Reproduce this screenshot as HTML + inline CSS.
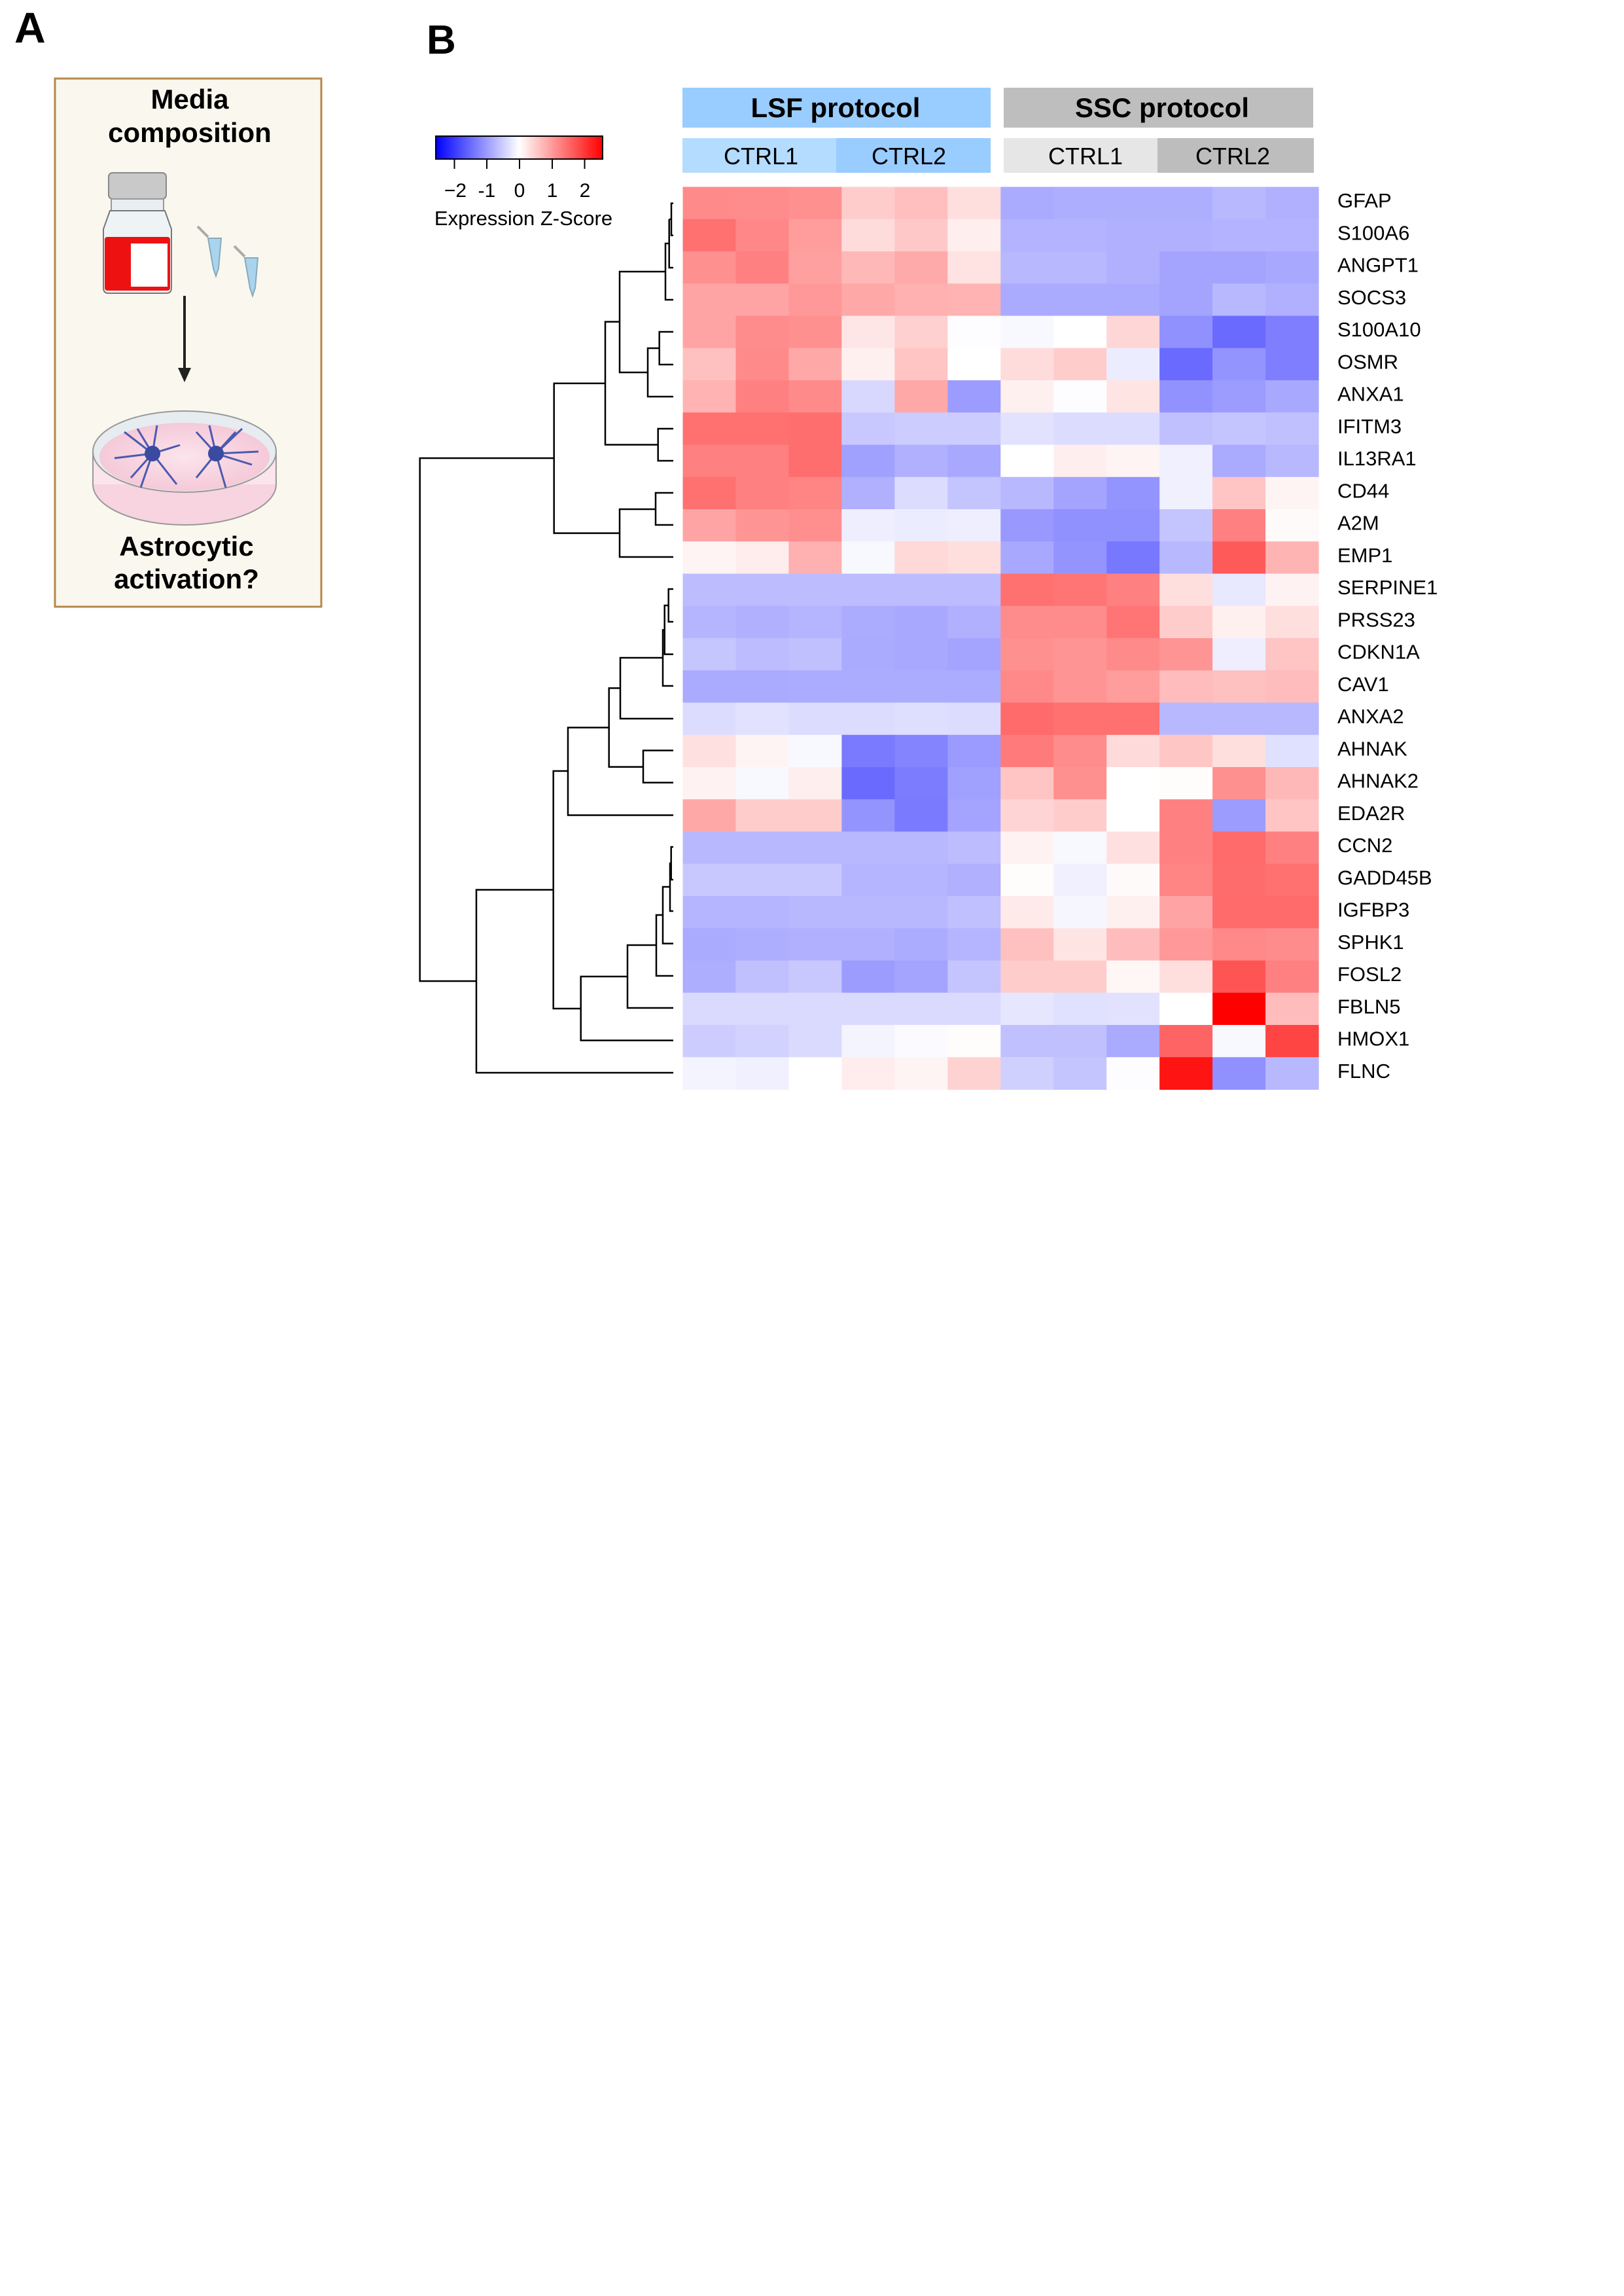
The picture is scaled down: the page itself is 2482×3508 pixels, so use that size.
<!DOCTYPE html>
<html><head><meta charset="utf-8">
<style>
html,body{margin:0;padding:0;background:#fff;}
svg{display:block;}
text{font-family:"Liberation Sans",sans-serif;}
</style></head>
<body>
<svg id="s" width="2482" height="3508" viewBox="0 0 2482 3508" xmlns="http://www.w3.org/2000/svg">
<defs>
<linearGradient id="cb" x1="0" x2="1" y1="0" y2="0">
<stop offset="0" stop-color="#0000ff"/><stop offset="0.5" stop-color="#ffffff"/><stop offset="1" stop-color="#ff0000"/>
</linearGradient>
<radialGradient id="dish" cx="0.5" cy="0.5" r="0.5"><stop offset="0" stop-color="#fbe4ec"/><stop offset="1" stop-color="#f5c9d8"/></radialGradient>
</defs>
<!-- Panel A -->
<text x="22" y="65" font-size="66" font-weight="bold">A</text>
<rect x="84" y="120" width="407" height="807" fill="#faf7ee" stroke="#b5874a" stroke-width="3"/>
<text x="290" y="166" font-size="42" font-weight="bold" text-anchor="middle">Media</text>
<text x="290" y="217" font-size="42" font-weight="bold" text-anchor="middle">composition</text>
<rect x="166" y="264" width="88" height="40" rx="6" fill="#c9c9c9" stroke="#888" stroke-width="2"/>
<rect x="170" y="304" width="80" height="18" fill="#e8eef2" stroke="#999" stroke-width="2"/>
<path d="M168 322 L252 322 L262 350 L262 440 Q262 448 254 448 L166 448 Q158 448 158 440 L158 350 Z" fill="#eef3f6" stroke="#777" stroke-width="2"/>
<rect x="160" y="362" width="100" height="82" rx="4" fill="#ee1111"/>
<rect x="200" y="372" width="56" height="66" fill="#ffffff"/>
<path d="M318 364 L338 364 L334 410 L330 422 L326 410 Z" fill="#a8d4ee" stroke="#8ab" stroke-width="2"/>
<path d="M374 394 L394 394 L390 440 L386 452 L382 440 Z" fill="#a8d4ee" stroke="#8ab" stroke-width="2"/>
<line x1="302" y1="346" x2="318" y2="362" stroke="#aaa" stroke-width="4"/>
<line x1="358" y1="376" x2="374" y2="392" stroke="#aaa" stroke-width="4"/>
<line x1="282" y1="452" x2="282" y2="565" stroke="#222" stroke-width="4"/>
<path d="M272 562 L292 562 L282 584 Z" fill="#222"/>
<ellipse cx="282" cy="740" rx="140" ry="62" fill="#f7d4e0" stroke="#999" stroke-width="2"/>
<rect x="142" y="690" width="280" height="50" fill="#fbe4ec"/>
<line x1="142" y1="690" x2="142" y2="740" stroke="#999" stroke-width="2"/>
<line x1="422" y1="690" x2="422" y2="740" stroke="#999" stroke-width="2"/>
<ellipse cx="282" cy="690" rx="140" ry="62" fill="#e6ecef" stroke="#999" stroke-width="2"/>
<ellipse cx="282" cy="698" rx="130" ry="52" fill="url(#dish)"/>
<g stroke="#4a5ab0" stroke-width="3" fill="none">
<path d="M233 693 L190 660 M233 693 L200 730 M233 693 L240 650 M233 693 L270 740 M233 693 L275 680 M233 693 L175 700 M233 693 L215 745 M233 693 L210 655"/>
<path d="M330 693 L300 660 M330 693 L370 655 M330 693 L385 710 M330 693 L345 745 M330 693 L300 730 M330 693 L360 660 M330 693 L395 690 M330 693 L320 650"/>
</g>
<circle cx="233" cy="693" r="12" fill="#3a4aa0"/><circle cx="330" cy="693" r="12" fill="#3a4aa0"/>
<text x="285" y="849" font-size="42" font-weight="bold" text-anchor="middle">Astrocytic</text>
<text x="285" y="899" font-size="42" font-weight="bold" text-anchor="middle">activation?</text>
<!-- Panel B -->
<text x="652" y="82" font-size="62" font-weight="bold">B</text>
<rect x="666" y="208" width="255" height="35" fill="url(#cb)" stroke="#000" stroke-width="2"/>
<g stroke="#000" stroke-width="2">
<line x1="694.5" y1="243" x2="694.5" y2="258"/><line x1="744" y1="243" x2="744" y2="258"/><line x1="794" y1="243" x2="794" y2="258"/><line x1="844" y1="243" x2="844" y2="258"/><line x1="893.5" y1="243" x2="893.5" y2="258"/>
</g>
<g font-size="30" text-anchor="middle">
<text x="696" y="301">−2</text><text x="744" y="301">-1</text><text x="794" y="301">0</text><text x="844" y="301">1</text><text x="894" y="301">2</text>
</g>
<text x="800" y="344" font-size="31" text-anchor="middle">Expression Z-Score</text>
<rect x="1043" y="134" width="471" height="61" fill="#99ccff"/>
<rect x="1534" y="134" width="473" height="61" fill="#bebebe"/>
<text x="1277" y="179" font-size="42" font-weight="bold" text-anchor="middle">LSF protocol</text>
<text x="1776" y="179" font-size="42" font-weight="bold" text-anchor="middle">SSC protocol</text>
<rect x="1043" y="211" width="235" height="53" fill="#b3dcff"/>
<rect x="1278" y="211" width="236" height="53" fill="#99ccff"/>
<rect x="1534" y="211" width="235" height="53" fill="#e6e6e6"/>
<rect x="1769" y="211" width="239" height="53" fill="#bdbdbd"/>
<g font-size="36" text-anchor="middle">
<text x="1163" y="251">CTRL1</text><text x="1389" y="251">CTRL2</text><text x="1659" y="251">CTRL1</text><text x="1884" y="251">CTRL2</text>
</g>
<g id="hm"></g>
<g id="lab" font-size="31"></g>
<g stroke="#000" stroke-width="2.5" fill="none">
<path d="M1029 310.6 H1026 V359.6 H1029"/>
<path d="M1026 335 H1022.7 M1029 409 H1022.7 V335"/>
<path d="M1022.7 372 H1017 V458 H1029"/>
<path d="M1029 507 H1007.7 V557 H1029"/>
<path d="M1007.7 532 H990 V606 H1029"/>
<path d="M1017 415 H947 V569 H990"/>
<path d="M1029 655 H1005.7 V704 H1029"/>
<path d="M947 491.6 H925 V679.5 H1005.7"/>
<path d="M1029 753 H1002 V802 H1029"/>
<path d="M1002 778 H947 V851 H1029"/>
<path d="M925 585.8 H846.7 V814.6 H947"/>
<path d="M846.7 700 H641.7 V1499 H728"/>
<path d="M1029 900 H1021.7 V950 H1029"/>
<path d="M1021.7 925 H1015.7 V999.6 H1029"/>
<path d="M1015.7 962.5 H1013 V1048 H1029"/>
<path d="M1013 1005 H948 V1098 H1029"/>
<path d="M1029 1146.6 H983 V1195.8 H1029"/>
<path d="M948 1051.4 H930.7 V1171.7 H983"/>
<path d="M930.7 1111.6 H868 V1245.5 H1029"/>
<path d="M1029 1294 H1025.7 V1344 H1029"/>
<path d="M1025.7 1319 H1024 V1392 H1029"/>
<path d="M1024 1355 H1013 V1441.6 H1029"/>
<path d="M1013 1398 H1003 V1491 H1029"/>
<path d="M1003 1444 H959 V1540 H1029"/>
<path d="M959 1492 H887.7 V1589.6 H1029"/>
<path d="M868 1178 H845.7 V1541 H887.7"/>
<path d="M845.7 1359.5 H728 V1639 H1029"/>
</g>
</svg>
<script>
var C=[
"ff8a8a ff8c8c ff9090 ffcccc ffbfbf ffdede aaaaff aeaeff aeaeff aeaeff b8b8ff b0b0ff",
"ff7070 ff8787 ff9d9d ffdcdc ffc8c8 ffeeee b3b3ff b3b3ff b0b0ff b0b0ff b3b3ff b3b3ff",
"ff9090 ff8080 ffa0a0 ffb8b8 ffaaaa ffe2e2 b8b8ff b8b8ff b0b0ff a4a4ff a4a4ff a8a8ff",
"ffa4a4 ffa4a4 ff9898 ffa8a8 ffb0b0 ffb3b3 aaaaff aaaaff aaaaff a4a4ff b8b8ff b0b0ff",
"ffa4a4 ff8c8c ff9090 ffe6e6 ffd0d0 fdfdff f8f8ff ffffff ffd6d6 9090ff 6a6aff 7e7eff",
"ffc0c0 ff8a8a ffa8a8 fff0f0 ffc4c4 ffffff ffdcdc ffcccc ececff 6a6aff 9494ff 7e7eff",
"ffb3b3 ff8080 ff8a8a d8d8ff ffa8a8 9c9cff fff0f0 fdfdff ffe4e4 9292ff 9c9cff a8a8ff",
"ff7070 ff7070 ff6e6e c8c8ff ccccff ccccff e2e2ff dcdcff dcdcff c0c0ff c4c4ff c0c0ff",
"ff8080 ff8080 ff6e6e a0a0ff b0b0ff a8a8ff ffffff ffeeee fff4f4 f0f0ff aaaaff b8b8ff",
"ff7070 ff8080 ff8484 b0b0ff dcdcff c4c4ff b8b8ff a4a4ff 9494ff f0f0ff ffc4c4 fff4f4",
"ffa4a4 ff9494 ff8e8e eeeeff ececff eeeeff 9898ff 9090ff 9090ff c4c4ff ff8080 fffafa",
"fff4f4 ffecec ffb0b0 f8f8ff ffd8d8 ffdede a8a8ff 9494ff 7878ff b8b8ff ff5a5a ffb4b4",
"bcbcff bcbcff bcbcff bcbcff bcbcff bcbcff ff7070 ff7474 ff8080 ffdede e8e8ff fff2f2",
"b4b4ff b0b0ff b4b4ff acacff a8a8ff b0b0ff ff8c8c ff8c8c ff7474 ffcccc fff0f0 ffdede",
"c6c6ff bcbcff c0c0ff aaaaff a8a8ff a4a4ff ff9090 ff9494 ff8a8a ff9494 eeeeff ffc4c4",
"aaaaff aaaaff ababff acacff acacff acacff ff8888 ff9494 ff9c9c ffbcbc ffc0c0 ffbcbc",
"dcdcff e2e2ff dcdcff dcdcff dedeff dcdcff ff6a6a ff7070 ff7070 b8b8ff b8b8ff b8b8ff",
"ffe0e0 fff4f4 f8f8ff 7a7aff 8484ff 9a9aff ff7a7a ff8c8c ffdada ffc6c6 ffdede e0e0ff",
"fff2f2 f8f8ff ffeeee 6a6aff 7c7cff a0a0ff ffc4c4 ff9090 ffffff fffcfc ff9090 ffb8b8",
"ffa8a8 ffcccc ffcccc 9494ff 7a7aff a4a4ff ffd4d4 ffcccc ffffff ff8080 9c9cff ffc4c4",
"b8b8ff b8b8ff b8b8ff b8b8ff b8b8ff bcbcff fff2f2 f8f8ff ffe0e0 ff8080 ff6a6a ff8080",
"c8c8ff c8c8ff c8c8ff b4b4ff b4b4ff b0b0ff fffcfc f0f0ff fffafa ff8484 ff6c6c ff7070",
"b4b4ff b4b4ff b8b8ff b8b8ff b8b8ff c0c0ff ffeaea f6f6ff fff0f0 ffa4a4 ff6a6a ff6a6a",
"aaaaff aeaeff b0b0ff b0b0ff acacff b4b4ff ffc0c0 ffe4e4 ffbcbc ff9898 ff8888 ff8c8c",
"aeaeff c0c0ff c8c8ff 9c9cff a4a4ff c4c4ff ffcccc ffcccc fff6f6 ffdede ff5454 ff8080",
"dadaff dadaff dadaff dadaff dadaff dadaff e6e6ff e0e0ff e2e2ff ffffff ff0000 ffbcbc",
"ccccff d2d2ff dadaff f4f4ff fafaff fffcfc c0c0ff c0c0ff aaaaff ff6464 f8f8ff ff4444",
"f4f4ff f0f0ff ffffff ffecec fff4f4 ffd2d2 d0d0ff c4c4ff fdfdff ff1414 9090ff b8b8ff"];
var G="GFAP S100A6 ANGPT1 SOCS3 S100A10 OSMR ANXA1 IFITM3 IL13RA1 CD44 A2M EMP1 SERPINE1 PRSS23 CDKN1A CAV1 ANXA2 AHNAK AHNAK2 EDA2R CCN2 GADD45B IGFBP3 SPHK1 FOSL2 FBLN5 HMOX1 FLNC".split(" ");
var ns="http://www.w3.org/2000/svg",hm=document.getElementById("hm"),lab=document.getElementById("lab");
var x0=1043.5,y0=285.5,cw=80.96,rh=49.25;
for(var r=0;r<28;r++){var cs=C[r].split(" ");for(var c=0;c<12;c++){var e=document.createElementNS(ns,"rect");
e.setAttribute("x",(x0+c*cw).toFixed(2));e.setAttribute("y",(y0+r*rh).toFixed(2));e.setAttribute("width",(cw+0.6).toFixed(2));e.setAttribute("height",(rh+0.6).toFixed(2));e.setAttribute("fill","#"+cs[c]);hm.appendChild(e);}
var t=document.createElementNS(ns,"text");t.setAttribute("x","2044");t.setAttribute("y",(y0+r*rh+rh/2+7).toFixed(1));t.textContent=G[r];lab.appendChild(t);}
</script>
</body></html>
